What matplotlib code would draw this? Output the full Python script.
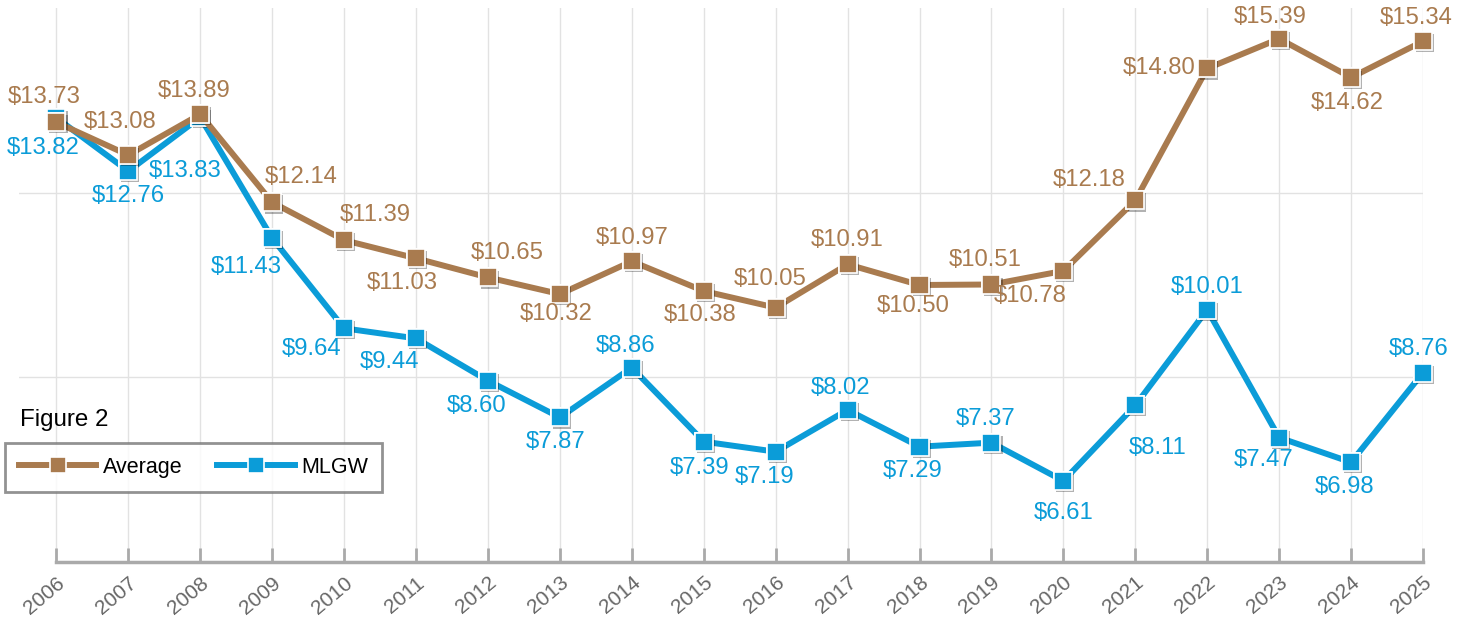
import matplotlib
matplotlib.use("Agg")
import matplotlib.pyplot as plt
import matplotlib.patheffects as pe

plt.rcParams['font.family'] = ['Liberation Sans', 'DejaVu Sans']

# data
years = ['2006', '2007', '2008', '2009', '2010', '2011', '2012', '2013', '2014', '2015',
         '2016', '2017', '2018', '2019', '2020', '2021', '2022', '2023', '2024', '2025']
average = [13.73, 13.08, 13.89, 12.14, 11.39, 11.03, 10.65, 10.32, 10.97, 10.38,
           10.05, 10.91, 10.50, 10.51, 10.78, 12.18, 14.80, 15.39, 14.62, 15.34]
mlgw = [13.82, 12.76, 13.83, 11.43, 9.64, 9.44, 8.60, 7.87, 8.86, 7.39,
        7.19, 8.02, 7.29, 7.37, 6.61, 8.11, 10.01, 7.47, 6.98, 8.76]

# label offsets in pixels (dx, dy) relative to each point
avg_off = [(-12, 25), (-8, 33), (-6, 23), (29, 25), (31, 25), (-14, -25), (19, 24), (-4, -20),
           (0, 23), (-4, -24), (-5, 29), (0, 24), (-6, -21), (-6, 24), (-33, -25), (-46, 20),
           (-48, 0), (-9, 22), (-4, -25), (-7, 23)]
mlgw_off = [(-13, -30), (0, -25), (-15, -54), (-26, -29), (-33, -21), (-27, -24), (-11, -25), (-4, -25),
            (-6, 22), (-4, -26), (-11, -25), (-7, 22), (-7, -24), (-6, 24), (0, -32), (22, -43),
            (0, 23), (-16, -22), (-7, -25), (-4, 24)]

brown = '#A97B4F'
blue = '#0B9CD8'

W, H = 1471, 618
fig = plt.figure(figsize=(W / 100, H / 100), dpi=100)
ax = fig.add_axes([19 / W, (H - 562) / H, (1423 - 19) / W, (562 - 8) / H])

x = list(range(len(years)))
shadow = [pe.SimplePatchShadow(offset=(1.5, -1.5), alpha=0.3, shadow_rgbFace='black'), pe.Normal()]

# lines (with markers, for the legend)
ax.plot(x, mlgw, color=blue, lw=4.3, marker='s', ms=13, mfc=blue, mec='white', mew=1.2,
        label='MLGW', clip_on=False, zorder=3)
ax.plot(x, average, color=brown, lw=4.3, marker='s', ms=13, mfc=brown, mec='white', mew=1.2,
        label='Average', clip_on=False, zorder=5)
# markers again with a soft drop shadow
ax.plot(x, mlgw, ls='none', marker='s', ms=13, mfc=blue, mec='white', mew=1.2,
        clip_on=False, zorder=4, path_effects=shadow)
ax.plot(x, average, ls='none', marker='s', ms=13, mfc=brown, mec='white', mew=1.2,
        clip_on=False, zorder=6, path_effects=shadow)

for i in x:
    ax.annotate('${:.2f}'.format(average[i]), (i, average[i]), xytext=(avg_off[i][0] * 0.72, avg_off[i][1] * 0.72),
                textcoords='offset points', ha='center', va='center', color=brown, fontsize=17.2, zorder=7)
    ax.annotate('${:.2f}'.format(mlgw[i]), (i, mlgw[i]), xytext=(mlgw_off[i][0] * 0.72, mlgw_off[i][1] * 0.72),
                textcoords='offset points', ha='center', va='center', color=blue, fontsize=17.2, zorder=7)

ax.set_xlim(-0.52, 19)
ax.set_ylim(5, 16)
ax.set_xticks(x)
ax.set_xticklabels(years, rotation=40, ha='right', rotation_mode='anchor', color='#666666', fontsize=15)
ax.set_yticks([5 + 11 / 3, 5 + 22 / 3])
ax.set_yticklabels([])
ax.tick_params(axis='y', length=0)
ax.tick_params(axis='x', direction='in', length=10, width=2, color='#aaaaaa', pad=8)
ax.grid(True, color='#e2e2e2', lw=1)
ax.set_axisbelow(True)
for s in ['top', 'right', 'left']:
    ax.spines[s].set_visible(False)
ax.spines['bottom'].set_color('#aaaaaa')
ax.spines['bottom'].set_linewidth(2.5)
ax.spines['bottom'].set_bounds(0, 19)

fig.text(20 / W, 1 - 420 / H, 'Figure 2', fontsize=17.4, va='center', ha='left', color='black')

h, l = ax.get_legend_handles_labels()
leg = fig.legend(h[::-1], l[::-1], loc='upper left', bbox_to_anchor=(5 / W, 1 - 443 / H), ncol=2,
                 fontsize=15.5, frameon=True, fancybox=False, edgecolor='#777777', handlelength=3.6,
                 columnspacing=1.6, borderpad=0.65, handletextpad=0.3, borderaxespad=0)
leg.get_frame().set_linewidth(2)
for line in leg.get_lines():
    line.set_markersize(11)

fig.savefig('out.png', dpi=100)
